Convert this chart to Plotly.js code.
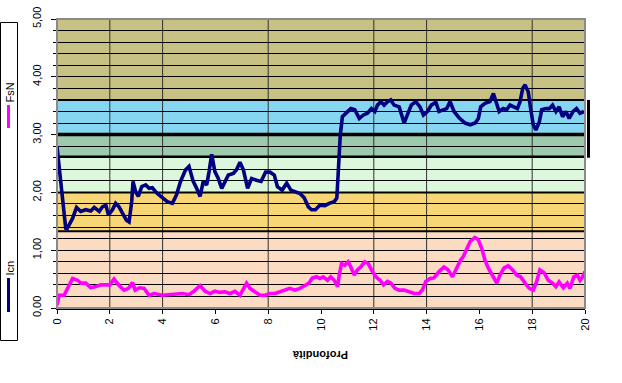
<!DOCTYPE html>
<html>
<head>
<meta charset="utf-8">
<script src="https://cdn.plot.ly/plotly-3.0.1.min.js"></script>
<style>html,body{margin:0;padding:0;background:#fff;}#chart{width:622px;height:383px;}</style>
</head>
<body>
<div id="chart"></div>
<script>
// ---- data ----
const icnDepth = [0,0.33,0.38,0.59,0.74,0.9,1.09,1.28,1.41,1.6,1.72,1.85,1.95,2.1,2.22,2.35,2.48,2.63,2.73,2.83,2.88,2.98,3.08,3.21,3.36,3.49,3.61,3.8,3.99,4.18,4.37,4.52,4.68,4.87,5.0,5.16,5.29,5.42,5.54,5.67,5.76,5.86,5.98,6.11,6.24,6.36,6.49,6.68,6.8,6.93,7.06,7.22,7.37,7.56,7.73,7.9,8.07,8.23,8.35,8.53,8.7,8.86,9.04,9.2,9.36,9.52,9.64,9.79,9.96,10.15,10.31,10.5,10.6,10.65,10.73,10.81,10.94,11.13,11.28,11.45,11.61,11.76,11.91,12.04,12.14,12.27,12.39,12.52,12.64,12.77,12.96,13.15,13.27,13.42,13.59,13.75,13.88,14.03,14.18,14.35,14.47,14.6,14.76,14.89,15.04,15.23,15.46,15.65,15.84,15.96,16.05,16.21,16.4,16.53,16.63,16.75,16.9,17.03,17.16,17.31,17.44,17.54,17.64,17.73,17.85,17.94,18.04,18.14,18.27,18.36,18.52,18.65,18.77,18.9,19.02,19.15,19.28,19.4,19.55,19.68,19.81,19.96];
const icnValue = [2.79,1.38,1.37,1.55,1.74,1.67,1.70,1.68,1.74,1.67,1.75,1.78,1.61,1.70,1.81,1.75,1.64,1.52,1.49,1.84,2.19,2.01,1.93,2.10,2.13,2.07,2.08,1.98,1.91,1.84,1.81,1.95,2.19,2.39,2.45,2.19,2.07,1.93,2.19,2.13,2.36,2.66,2.36,2.24,2.07,2.19,2.30,2.33,2.39,2.52,2.39,2.07,2.24,2.21,2.19,2.35,2.35,2.30,2.10,2.04,2.16,2.04,2.01,1.98,1.91,1.75,1.70,1.70,1.78,1.77,1.81,1.84,1.90,2.42,2.99,3.31,3.37,3.45,3.43,3.28,3.34,3.37,3.45,3.40,3.51,3.57,3.51,3.57,3.60,3.51,3.48,3.20,3.34,3.51,3.57,3.48,3.34,3.40,3.51,3.56,3.40,3.43,3.45,3.57,3.40,3.29,3.20,3.17,3.20,3.28,3.48,3.54,3.57,3.71,3.57,3.40,3.45,3.43,3.51,3.48,3.45,3.57,3.80,3.86,3.74,3.45,3.17,3.08,3.22,3.43,3.45,3.45,3.51,3.40,3.48,3.31,3.40,3.28,3.40,3.45,3.37,3.40];
const fsnDepth = [0,0.08,0.27,0.4,0.59,0.78,0.9,1.09,1.28,1.47,1.66,1.85,2.0,2.16,2.35,2.54,2.71,2.86,2.96,3.13,3.3,3.49,3.68,3.99,4.37,4.75,5.0,5.16,5.42,5.61,5.8,5.98,6.17,6.36,6.55,6.74,6.93,7.06,7.18,7.31,7.5,7.69,7.88,8.07,8.26,8.45,8.63,8.82,9.01,9.2,9.39,9.54,9.67,9.83,9.96,10.08,10.25,10.37,10.5,10.63,10.69,10.78,10.9,11.03,11.13,11.26,11.38,11.51,11.66,11.79,11.91,12.08,12.24,12.37,12.52,12.65,12.8,12.96,13.15,13.34,13.53,13.72,13.84,13.97,14.13,14.28,14.47,14.66,14.81,14.98,15.14,15.29,15.39,15.52,15.65,15.83,15.96,16.09,16.21,16.34,16.5,16.66,16.78,16.93,17.09,17.26,17.41,17.56,17.73,17.89,18.04,18.17,18.29,18.45,18.61,18.77,18.9,19.02,19.18,19.33,19.43,19.58,19.71,19.81,19.91,20.0];
const fsnValue = [0.05,0.22,0.22,0.34,0.51,0.48,0.43,0.43,0.35,0.37,0.40,0.40,0.40,0.50,0.39,0.31,0.34,0.44,0.31,0.35,0.34,0.22,0.25,0.22,0.23,0.25,0.23,0.28,0.39,0.29,0.25,0.29,0.27,0.28,0.25,0.29,0.22,0.34,0.43,0.34,0.27,0.22,0.22,0.25,0.25,0.28,0.31,0.34,0.31,0.34,0.39,0.43,0.52,0.54,0.51,0.54,0.48,0.54,0.48,0.37,0.57,0.77,0.74,0.80,0.71,0.57,0.66,0.71,0.80,0.77,0.66,0.54,0.48,0.40,0.46,0.43,0.34,0.31,0.31,0.28,0.25,0.25,0.31,0.46,0.51,0.52,0.63,0.71,0.66,0.54,0.71,0.83,0.89,1.03,1.15,1.22,1.18,1.03,0.83,0.69,0.57,0.43,0.57,0.69,0.73,0.66,0.57,0.54,0.43,0.34,0.31,0.46,0.66,0.61,0.48,0.43,0.37,0.45,0.35,0.43,0.34,0.54,0.57,0.48,0.54,0.63];
// classification bands (Icn limits) and their colours
const bandEdges = [0, 1.33, 2.0, 2.62, 3.0, 3.6, 5.0];
const bandColors = ['#fbdcc2', '#f7d676', '#ddf7dc', '#9dcaac', '#86d6f1', '#c7c284'];
const bandLineWidths = [0, 2, 2, 2, 3.5, 2];
const vGridX = [2, 4, 8, 12, 14, 18];
const seriesNames = ['Icn', 'FsN'];
const seriesColors = ['#000080', '#ff00ff'];

// ---- layout helpers ----
const L = 57, R = 585, T = 19, B = 308;
const px2x = p => (p - L) / (R - L);
const py2y = p => (B - p) / (B - T);

const shapes = [];
for (let i = 0; i < bandColors.length; i++) {
  shapes.push({type:'rect', xref:'paper', yref:'y', x0:0, x1:1, y0:bandEdges[i], y1:bandEdges[i+1],
    fillcolor:bandColors[i], line:{width:0}, layer:'below'});
}
vGridX.forEach(v => shapes.push({type:'line', xref:'x', yref:'paper', x0:v, x1:v, y0:0, y1:1,
  line:{color:'#303030', width:1}, layer:'below'}));
for (let i = 1; i < bandColors.length; i++) {
  shapes.push({type:'line', xref:'paper', yref:'y', x0:0, x1:1, y0:bandEdges[i], y1:bandEdges[i],
    line:{color:'#000', width:bandLineWidths[i]}, layer:'below'});
}
// plot frame
shapes.push({type:'rect', xref:'paper', yref:'paper', x0:0, x1:1, y0:0, y1:1, line:{color:'#8a8a8a', width:2}, layer:'above'});
// black bar at right edge
shapes.push({type:'rect', xref:'paper', yref:'y', x0:px2x(587), x1:px2x(590), y0:2.6, y1:3.6, fillcolor:'#000', line:{width:0}});
// legend box and samples
shapes.push({type:'rect', xref:'paper', yref:'paper', x0:px2x(0.5), x1:px2x(17.5), y0:py2y(22.5), y1:py2y(340.5), line:{color:'#000', width:1}, fillcolor:'#fff'});
shapes.push({type:'line', xref:'paper', yref:'paper', x0:px2x(8.5), x1:px2x(8.5), y0:py2y(105), y1:py2y(128), line:{color:seriesColors[1], width:3}});
shapes.push({type:'line', xref:'paper', yref:'paper', x0:px2x(8.5), x1:px2x(8.5), y0:py2y(278), y1:py2y(312), line:{color:seriesColors[0], width:3}});

const font = {family:'"Liberation Sans", Arial, sans-serif', size:11, color:'#000'};
const annotations = [
  {text:'Profondità', xref:'paper', yref:'paper', x:px2x(320), y:py2y(355), showarrow:false, textangle:180,
   font:{family:font.family, size:11, color:'#000', weight:'bold'}, xanchor:'center', yanchor:'middle'},
  {text:seriesNames[1], xref:'paper', yref:'paper', x:px2x(9.5), y:py2y(93), showarrow:false, textangle:-90, font:font, xanchor:'center', yanchor:'middle'},
  {text:seriesNames[0], xref:'paper', yref:'paper', x:px2x(9.5), y:py2y(268), showarrow:false, textangle:-90, font:font, xanchor:'center', yanchor:'middle'}
];

const traces = [
  {x:icnDepth, y:icnValue, name:seriesNames[0], type:'scatter', mode:'lines', line:{color:seriesColors[0], width:3.6}},
  {x:fsnDepth, y:fsnValue, name:seriesNames[1], type:'scatter', mode:'lines', line:{color:seriesColors[1], width:3.6}}
];

const layout = {
  width:622, height:383, margin:{l:L, r:622-R, t:T, b:383-B, pad:0},
  paper_bgcolor:'#fff', plot_bgcolor:'#fff', showlegend:false, separators:',.',
  font:font,
  xaxis:{range:[0,20], tick0:0, dtick:2, ticks:'outside', ticklen:4, tickcolor:'#000', showline:true, linecolor:'#000', linewidth:2,
    showgrid:false, zeroline:false, tickangle:-90, tickfont:font},
  yaxis:{range:[0,5], tick0:0, dtick:1, tickformat:'.2f', ticks:'outside', ticklen:5, tickcolor:'#000', showline:true, linecolor:'#000', linewidth:1,
    showgrid:true, gridcolor:'#000', gridwidth:1, zeroline:false, tickangle:-90, tickfont:font, ticklabelstandoff:6,
    minor:{dtick:0.2, showgrid:true, gridcolor:'#000', gridwidth:1, ticks:'outside', ticklen:3, tickcolor:'#000'}},
  shapes:shapes, annotations:annotations
};
Plotly.newPlot('chart', traces, layout, {staticPlot:true, displayModeBar:false});
</script>
</body>
</html>
